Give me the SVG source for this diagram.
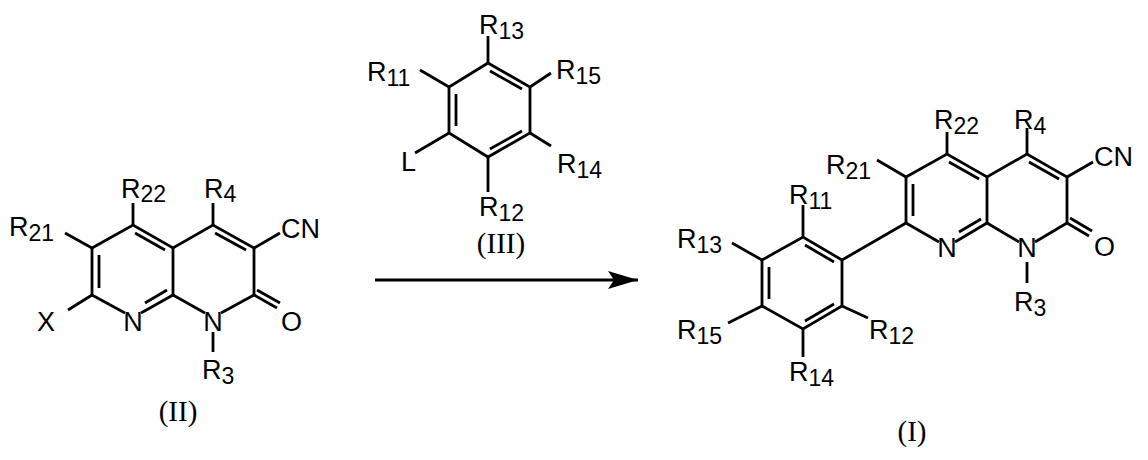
<svg xmlns="http://www.w3.org/2000/svg" width="1148" height="460" viewBox="0 0 1148 460">
<style>
line,polyline{stroke:#000;stroke-width:2.8;fill:none;stroke-linecap:butt}
text{font-family:"Liberation Sans",Arial,sans-serif;font-size:27px;fill:#000}
.s{font-size:23px}
.c{text-anchor:middle}
.lab{font-family:"Liberation Serif","Times New Roman",serif;font-size:29px;text-anchor:middle}
</style>
<defs><marker id="ah" markerWidth="30" markerHeight="18" refX="30" refY="9" orient="auto" markerUnits="userSpaceOnUse"><polygon points="0,0 30,9 0,18 6,9" fill="#000"/></marker></defs>
<g id="compound-II">
<polyline points="92,248 133,225 173,248 213,225 254,248 254,295"/>
<line x1="92" y1="248" x2="92" y2="295"/>
<line x1="173" y1="248" x2="173" y2="295"/>
<line x1="92" y1="295" x2="125" y2="313"/>
<line x1="141" y1="313" x2="173" y2="295"/>
<line x1="173" y1="295" x2="205" y2="313"/>
<line x1="221" y1="313" x2="254" y2="295"/>
<line x1="99" y1="255" x2="99" y2="288"/>
<line x1="135" y1="233" x2="165" y2="250"/>
<line x1="145" y1="303" x2="167" y2="290"/>
<line x1="215" y1="233" x2="246" y2="250"/>
<line x1="254" y1="295" x2="277" y2="308"/>
<line x1="257" y1="290" x2="280" y2="303"/>
<line x1="92" y1="248" x2="65" y2="233"/>
<line x1="133" y1="225" x2="133" y2="203"/>
<line x1="213" y1="225" x2="213" y2="203"/>
<line x1="254" y1="248" x2="280" y2="233"/>
<line x1="92" y1="295" x2="68" y2="310"/>
<line x1="213" y1="332" x2="213" y2="352"/>
<text x="9" y="236">R<tspan class="s" dy="5">21</tspan></text>
<text x="121" y="198">R<tspan class="s" dy="4">22</tspan></text>
<text x="204" y="198">R<tspan class="s" dy="4">4</tspan></text>
<text x="281" y="238">CN</text>
<text x="37" y="331">X</text>
<text class="c" x="133" y="331">N</text>
<text class="c" x="213" y="331">N</text>
<text x="281" y="331">O</text>
<text x="202" y="379">R<tspan class="s" dy="5">3</tspan></text>
<text class="lab" x="178" y="421">(II)</text>
</g>
<g id="compound-III">
<polygon points="488,63 530,87 530,133 488,157 449,133 449,87" fill="none" stroke="#000" stroke-width="2.8"/>
<line x1="490" y1="71" x2="522" y2="89"/>
<line x1="456" y1="94" x2="456" y2="126"/>
<line x1="522" y1="131" x2="490" y2="149"/>
<line x1="488" y1="63" x2="488" y2="36"/>
<line x1="530" y1="87" x2="551" y2="73"/>
<line x1="530" y1="133" x2="551" y2="146"/>
<line x1="488" y1="157" x2="488" y2="192"/>
<line x1="449" y1="87" x2="420" y2="70"/>
<line x1="449" y1="133" x2="415" y2="153"/>
<text x="479" y="34">R<tspan class="s" dy="5">13</tspan></text>
<text x="556" y="79">R<tspan class="s" dy="5">15</tspan></text>
<text x="367" y="81">R<tspan class="s" dy="5">11</tspan></text>
<text x="557" y="173">R<tspan class="s" dy="5">14</tspan></text>
<text x="479" y="216">R<tspan class="s" dy="5">12</tspan></text>
<text x="401" y="171">L</text>
<text class="lab" x="501" y="253">(III)</text>
</g>
<g id="connectors">
<line x1="375" y1="280" x2="638" y2="280" marker-end="url(#ah)"/>
</g>
<g id="compound-I">
<polyline points="906,177 947,154 987,177 1027,154 1067,177 1067,223"/>
<line x1="906" y1="177" x2="906" y2="223"/>
<line x1="987" y1="177" x2="987" y2="223"/>
<line x1="906" y1="223" x2="939" y2="242"/>
<line x1="955" y1="242" x2="987" y2="223"/>
<line x1="987" y1="223" x2="1019" y2="242"/>
<line x1="1035" y1="242" x2="1067" y2="223"/>
<line x1="913" y1="184" x2="913" y2="216"/>
<line x1="949" y1="162" x2="979" y2="179"/>
<line x1="959" y1="232" x2="981" y2="219"/>
<line x1="1029" y1="162" x2="1059" y2="179"/>
<line x1="1067" y1="223" x2="1089" y2="236"/>
<line x1="1070" y1="218" x2="1092" y2="231"/>
<line x1="906" y1="177" x2="877" y2="160"/>
<line x1="947" y1="154" x2="947" y2="132"/>
<line x1="1027" y1="154" x2="1027" y2="128"/>
<line x1="1067" y1="177" x2="1093" y2="162"/>
<line x1="1027" y1="262" x2="1027" y2="283"/>
<line x1="906" y1="223" x2="842" y2="260"/>
<polygon points="842,260 803,237 762,260 762,306 803,329 842,306" fill="none" stroke="#000" stroke-width="2.8"/>
<line x1="805" y1="245" x2="834" y2="262"/>
<line x1="769" y1="267" x2="769" y2="299"/>
<line x1="805" y1="321" x2="834" y2="304"/>
<line x1="803" y1="237" x2="803" y2="205"/>
<line x1="762" y1="260" x2="732" y2="243"/>
<line x1="762" y1="306" x2="728" y2="323"/>
<line x1="803" y1="329" x2="803" y2="357"/>
<line x1="842" y1="306" x2="868" y2="318"/>
<text x="826" y="174">R<tspan class="s" dy="5">21</tspan></text>
<text x="934" y="129">R<tspan class="s" dy="5">22</tspan></text>
<text x="1014" y="129">R<tspan class="s" dy="5">4</tspan></text>
<text x="1094" y="166">CN</text>
<text x="1094" y="256">O</text>
<text class="c" x="947" y="257">N</text>
<text class="c" x="1027" y="257">N</text>
<text x="1014" y="311">R<tspan class="s" dy="5">3</tspan></text>
<text x="789" y="204">R<tspan class="s" dy="5">11</tspan></text>
<text x="677" y="248">R<tspan class="s" dy="5">13</tspan></text>
<text x="677" y="339">R<tspan class="s" dy="5">15</tspan></text>
<text x="789" y="381">R<tspan class="s" dy="5">14</tspan></text>
<text x="869" y="339">R<tspan class="s" dy="5">12</tspan></text>
<text class="lab" x="912" y="441">(I)</text>
</g>
</svg>
